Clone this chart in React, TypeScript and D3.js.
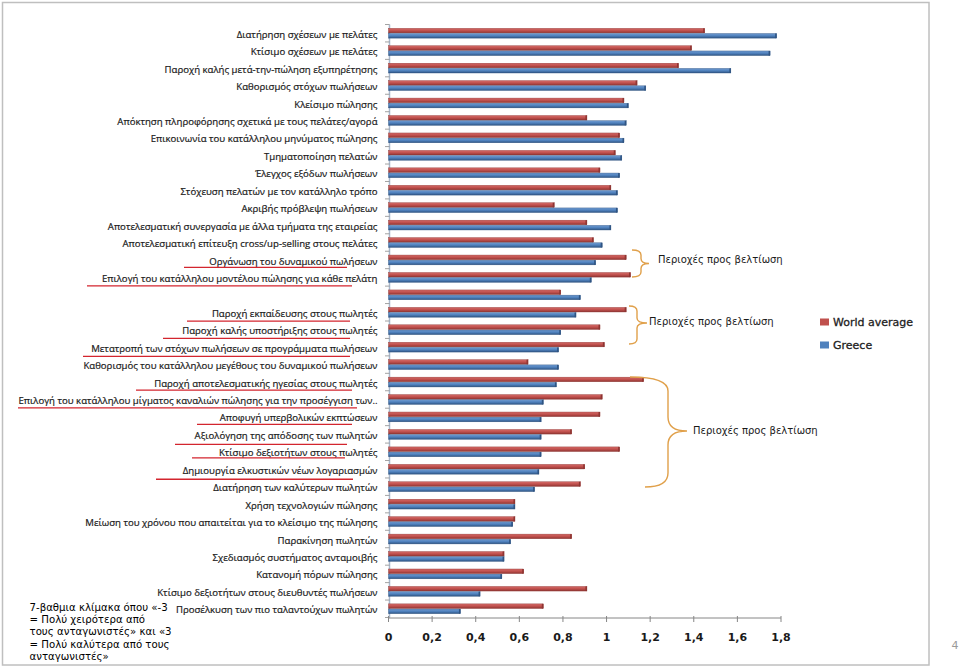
import React from 'react';
import * as d3 from 'd3';

const categories: string[] = [
  'Διατήρηση σχέσεων με πελάτες',
  'Κτίσιμο σχέσεων με πελάτες',
  'Παροχή καλής μετά-την-πώληση εξυπηρέτησης',
  'Καθορισμός στόχων πωλήσεων',
  'Κλείσιμο πώλησης',
  'Απόκτηση πληροφόρησης σχετικά με τους πελάτες/αγορά',
  'Επικοινωνία του κατάλληλου μηνύματος πώλησης',
  'Τμηματοποίηση πελατών',
  'Έλεγχος εξόδων πωλήσεων',
  'Στόχευση πελατών με τον κατάλληλο τρόπο',
  'Ακριβής πρόβλεψη πωλήσεων',
  'Αποτελεσματική συνεργασία με άλλα τμήματα της εταιρείας',
  'Αποτελεσματική επίτευξη cross/up-selling στους πελάτες',
  'Οργάνωση του δυναμικού πωλήσεων',
  'Επιλογή του κατάλληλου μοντέλου πώλησης για κάθε πελάτη',
  '',
  'Παροχή εκπαίδευσης στους πωλητές',
  'Παροχή καλής υποστήριξης στους πωλητές',
  'Μετατροπή των στόχων πωλήσεων σε προγράμματα πωλήσεων',
  'Καθορισμός του κατάλληλου μεγέθους του δυναμικού πωλήσεων',
  'Παροχή αποτελεσματικής ηγεσίας στους πωλητές',
  'Επιλογή του κατάλληλου μίγματος καναλιών πώλησης για την προσέγγιση των..',
  'Αποφυγή υπερβολικών εκπτώσεων',
  'Αξιολόγηση της απόδοσης των πωλητών',
  'Κτίσιμο δεξιοτήτων στους πωλητές',
  'Δημιουργία ελκυστικών νέων λογαριασμών',
  'Διατήρηση των καλύτερων πωλητών',
  'Χρήση τεχνολογιών πώλησης',
  'Μείωση του χρόνου που απαιτείται για το κλείσιμο της πώλησης',
  'Παρακίνηση πωλητών',
  'Σχεδιασμός συστήματος ανταμοιβής',
  'Κατανομή πόρων πώλησης',
  'Κτίσιμο δεξιοτήτων στους διευθυντές πωλήσεων',
  'Προσέλκυση των πιο ταλαντούχων πωλητών',
];

const worldAverage: number[] = [
  1.45, 1.39, 1.33, 1.14, 1.08, 0.91, 1.06, 1.04, 0.97, 1.02, 0.76, 0.91, 0.94, 1.09, 1.11, 0.79,
  1.09, 0.97, 0.99, 0.64, 1.17, 0.98, 0.97, 0.84, 1.06, 0.9, 0.88, 0.58, 0.58, 0.84, 0.53, 0.62, 0.91, 0.71,
];

const greece: number[] = [
  1.78, 1.75, 1.57, 1.18, 1.1, 1.09, 1.08, 1.07, 1.06, 1.05, 1.05, 1.02, 0.98, 0.95, 0.93, 0.88,
  0.86, 0.79, 0.78, 0.78, 0.77, 0.71, 0.7, 0.7, 0.7, 0.69, 0.67, 0.58, 0.57, 0.56, 0.53, 0.52, 0.42, 0.33,
];

const seriesNames: string[] = ['World average', 'Greece'];
const tickValues: number[] = [0, 0.2, 0.4, 0.6, 0.8, 1, 1.2, 1.4, 1.6, 1.8];
const tickLabels: string[] = ['0', '0,2', '0,4', '0,6', '0,8', '1', '1,2', '1,4', '1,6', '1,8'];

const noteLines: string[] = [
  '7-βαθμια κλίμακα όπου «-3',
  '= Πολύ χειρότερα από',
  'τους ανταγωνιστές» και «3',
  '= Πολύ καλύτερα από τους',
  'ανταγωνιστές»',
];
const braceText = 'Περιοχές προς βελτίωση';

// hand-drawn underline annotations: row index, x extent, offset below row centre
const underlines = [
  { row: 13, x0: 184, x1: 347, dy: 7.5 },
  { row: 14, x0: 87, x1: 352, dy: 8.5 },
  { row: 16, x0: 187, x1: 350, dy: 8.8 },
  { row: 17, x0: 163, x1: 350, dy: 8.6 },
  { row: 18, x0: 83, x1: 350, dy: 9.2 },
  { row: 20, x0: 136, x1: 352, dy: 8 },
  { row: 21, x0: 18, x1: 357, dy: 8.3 },
  { row: 22, x0: 197, x1: 352, dy: 7.5 },
  { row: 23, x0: 175, x1: 347, dy: 10 },
  { row: 24, x0: 192, x1: 345, dy: 6 },
  { row: 25, x0: 156, x1: 353, dy: 10 },
];

const RED = '#C0504D';
const BLUE = '#4F81BD';

function bracePath(x0a: number, x0b: number, xm: number, xp: number, y0: number, y1: number, ym: number, r: number) {
  return `M${x0a},${y0} Q${xm},${y0} ${xm},${y0 + r} L${xm},${ym - r} Q${xm},${ym} ${xp},${ym} Q${xm},${ym} ${xm},${ym + r} L${xm},${y1 - r} Q${xm},${y1} ${x0b},${y1}`;
}

export default function App() {
  const W = 960;
  const H = 668;
  const x = d3.scaleLinear().domain([0, 1.8]).range([388.5, 781]);
  const y = d3
    .scaleBand<number>()
    .domain(categories.map((_, i) => i))
    .range([24.5, 617.5]);
  const bw = y.bandwidth();
  const barH = 4.6;
  const labelFont = "'Open Sans', 'Noto Sans', sans-serif";
  const verdana = "'DejaVu Sans', Verdana, sans-serif";

  return (
    <svg
      width={W}
      height={H}
      style={{ position: 'absolute', left: 0, top: 0, background: '#fff' }}
      xmlns="http://www.w3.org/2000/svg"
    >
      <defs>
        <linearGradient id="gRed" x1="0" y1="0" x2="0" y2="1">
          <stop offset="0" stopColor="#D46A67" />
          <stop offset="0.5" stopColor={RED} />
          <stop offset="1" stopColor="#8E3532" />
        </linearGradient>
        <linearGradient id="gBlue" x1="0" y1="0" x2="0" y2="1">
          <stop offset="0" stopColor="#6F9AD0" />
          <stop offset="0.5" stopColor={BLUE} />
          <stop offset="1" stopColor="#2F5482" />
        </linearGradient>
      </defs>
      <rect x={0} y={0} width={W} height={H} fill="#fff" />
      {/* slide frame */}
      <rect x={2.5} y={2.5} width={926.5} height={662.5} fill="none" stroke="#BFBFBF" strokeWidth={1.5} />

      {/* y axis wall line and ticks */}
      <line x1={389.5} x2={389.5} y1={24.5} y2={617.5} stroke="#A9B8CC" strokeWidth={1.5} />
      {categories.map((_, i) => (
        <line
          key={'yt' + i}
          x1={385}
          x2={389.5}
          y1={(y(i) as number)}
          y2={(y(i) as number)}
          stroke="#8C8C8C"
          strokeWidth={0.8}
        />
      ))}
      <line x1={385} x2={389.5} y1={617.5} y2={617.5} stroke="#8C8C8C" strokeWidth={0.8} />

      {/* bars */}
      {categories.map((_, i) => {
        const c = (y(i) as number) + bw / 2;
        const wr = x(worldAverage[i]) - x(0);
        const wb = x(greece[i]) - x(0);
        return (
          <g key={'b' + i}>
            <rect x={x(0)} y={c - barH - 0.3} width={wr} height={barH} fill="url(#gRed)" stroke="#8E3532" strokeWidth={0.4} />
            <rect x={x(0) + wr - 1.5} y={c - barH - 0.3} width={1.5} height={barH} fill="#8E3532" />
            <rect x={x(0)} y={c + 0.3} width={wb} height={barH} fill="url(#gBlue)" stroke="#2F5482" strokeWidth={0.4} />
            <rect x={x(0) + wb - 1.5} y={c + 0.3} width={1.5} height={barH} fill="#2F5482" />
          </g>
        );
      })}

      {/* category labels */}
      {categories.map((cat, i) => (
        <text
          key={'l' + i}
          x={377.5}
          y={(y(i) as number) + bw / 2 + 2}
          textAnchor="end"
          dominantBaseline="middle"
          fontFamily={labelFont}
          fontSize={9.6}
          fill="#1A1A1A"
          stroke="#1A1A1A"
          strokeWidth={0.2}
        >
          {cat}
        </text>
      ))}

      {/* red underlines */}
      {underlines.map((u, i) => {
        const c = (y(u.row) as number) + bw / 2 + u.dy;
        return <line key={'u' + i} x1={u.x0} x2={u.x1} y1={c} y2={c} stroke="#D3252E" strokeWidth={1.3} />;
      })}

      {/* x axis */}
      <line x1={x(0)} x2={x(1.8)} y1={618} y2={618} stroke="#868686" strokeWidth={1} />
      {tickValues.map((v, i) => (
        <g key={'xt' + i}>
          <line x1={x(v)} x2={x(v)} y1={616} y2={622} stroke="#868686" strokeWidth={1} />
          <text
            x={x(v)}
            y={638}
            textAnchor="middle"
            dominantBaseline="middle"
            fontFamily={verdana}
            fontSize={11}
            fontWeight="bold"
            fill="#1a1a1a"
          >
            {tickLabels[i]}
          </text>
        </g>
      ))}

      {/* braces */}
      <g fill="none" stroke="#E0A04A" strokeWidth={1.4}>
        <path d={bracePath(632, 632, 641, 649, 250, 277, 263.5, 5)} />
        <path d={bracePath(629, 629, 637, 647, 306, 344, 323, 5)} />
        <path d={bracePath(630, 645, 668, 687, 377, 487, 431, 14)} />
      </g>
      <g fontFamily={verdana} fontSize={10} fill="#1a1a1a" dominantBaseline="middle">
        <text x={658} y={260}>{braceText}</text>
        <text x={649} y={322}>{braceText}</text>
        <text x={693} y={431}>{braceText}</text>
      </g>

      {/* legend */}
      <rect x={820} y={318.5} width={9} height={7} fill={RED} />
      <text x={833} y={322.5} dominantBaseline="middle" fontFamily={verdana} fontSize={11} fill="#222" stroke="#222" strokeWidth={0.3}>
        {seriesNames[0]}
      </text>
      <rect x={820} y={341.5} width={9} height={7} fill={BLUE} />
      <text x={833} y={345.5} dominantBaseline="middle" fontFamily={verdana} fontSize={11} fill="#222" stroke="#222" strokeWidth={0.3}>
        {seriesNames[1]}
      </text>

      {/* note */}
      <g fontFamily={verdana} fontSize={10.2} fill="#000">
        {noteLines.map((t, i) => (
          <text key={'n' + i} x={29.5} y={607.5 + i * 12.35} dominantBaseline="middle">
            {t}
          </text>
        ))}
      </g>

      {/* page number */}
      <text x={955} y={646} textAnchor="middle" dominantBaseline="middle" fontFamily={verdana} fontSize={11} fill="#9A9A9A">
        4
      </text>
    </svg>
  );
}
